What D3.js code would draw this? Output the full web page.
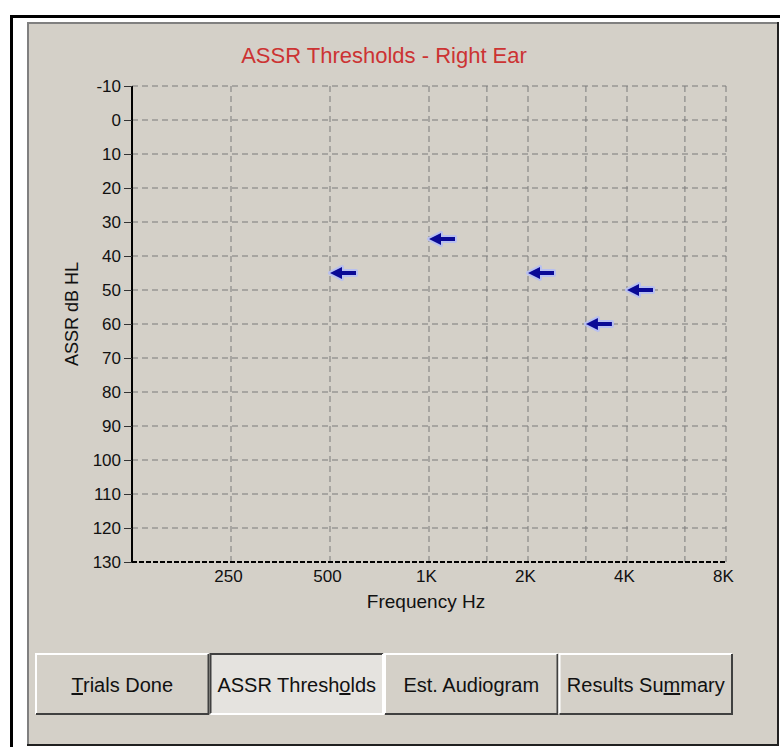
<!DOCTYPE html>
<html>
<head>
<meta charset="utf-8">
<script src="https://cdn.jsdelivr.net/npm/d3@7"></script>
<style>
  body { margin: 0; background: #fff; }
  text { font-family: "Liberation Sans", Arial, sans-serif; }
</style>
</head>
<body>
<svg id="chart" width="780" height="747"></svg>
<script>
// threshold data
var freqs = [500, 1000, 2000, 3000, 4000];
var thresholds = [45, 35, 45, 60, 50];

var yTicks = [-10, 0, 10, 20, 30, 40, 50, 60, 70, 80, 90, 100, 110, 120, 130];
var xTicks = [250, 500, 1000, 2000, 4000, 8000];
var xTickLabels = ["250", "500", "1K", "2K", "4K", "8K"];
var gridFreqs = [250, 500, 1000, 1500, 2000, 3000, 4000, 6000, 8000];

var buttons = ["Trials Done", "ASSR Thresholds", "Est. Audiogram", "Results Summary"];
var underlineAt = [0, 11, -1, 10];
var selected = 1;

var svg = d3.select("#chart"),
  width = +svg.attr("width"),
  height = +svg.attr("height");

var x = d3.scaleLog()
  .domain([125, 8000])
  .range([132, 726]);

var y = d3.scaleLinear()
  .domain([-10, 130])
  .range([86, 562]);

// outer frame
svg.append("rect").attr("x", 10).attr("y", 15).attr("width", 3).attr("height", height - 15).attr("fill", "#000");
svg.append("rect").attr("x", 10).attr("y", 15).attr("width", width - 10).attr("height", 3).attr("fill", "#000");

// grey panel
svg.append("rect")
  .attr("x", 27).attr("y", 22)
  .attr("width", 751).attr("height", 723)
  .attr("fill", "#d4d0c8");
svg.append("path").attr("d", "M28,744V23H777").attr("fill", "none").attr("stroke", "#808080").attr("stroke-width", 2);
svg.append("path").attr("d", "M27,745H778V22").attr("fill", "none").attr("stroke", "#202020").attr("stroke-width", 2);

// title
svg.append("text")
  .attr("x", 384).attr("y", 63)
  .attr("text-anchor", "middle")
  .attr("font-size", 22)
  .attr("fill", "#cc3333")
  .text("ASSR Thresholds - Right Ear");

var g = svg.append("g");

// grid
g.selectAll("line.hgrid")
  .data(yTicks.slice(0, -1))
  .enter().append("line")
  .attr("class", "hgrid")
  .attr("x1", x(125)).attr("x2", x(8000))
  .attr("y1", function (d) { return y(d); })
  .attr("y2", function (d) { return y(d); })
  .attr("stroke", "#7a7a7a")
  .attr("stroke-dasharray", "6,4");

g.selectAll("line.vgrid")
  .data(gridFreqs)
  .enter().append("line")
  .attr("class", "vgrid")
  .attr("x1", function (d) { return x(d); })
  .attr("x2", function (d) { return x(d); })
  .attr("y1", y(-10)).attr("y2", y(130))
  .attr("stroke", "#7a7a7a")
  .attr("stroke-dasharray", "6,4");

// y axis
var yAxis = g.append("g")
  .attr("transform", "translate(" + x(125) + ",0)")
  .call(d3.axisLeft(y).tickValues(yTicks).tickSize(8).tickPadding(3)
    .tickFormat(function (d) { return String(d); }));
yAxis.select(".domain").attr("stroke", "#000").attr("stroke-width", 2).attr("d", "M0," + y(-10) + "V" + y(130));
yAxis.selectAll(".tick line").attr("stroke", "#333");
yAxis.selectAll("text").attr("font-size", 17).attr("fill", "#111").attr("font-family", "Liberation Sans, Arial, sans-serif");

// x axis
var xAxis = g.append("g")
  .attr("transform", "translate(0," + y(130) + ")")
  .call(d3.axisBottom(x).tickValues(xTicks).tickSize(0).tickPadding(8)
    .tickFormat(function (d, i) { return xTickLabels[i]; }));
xAxis.select(".domain")
  .attr("stroke", "#000").attr("stroke-width", 2)
  .attr("stroke-dasharray", "5,2")
  .attr("d", "M" + x(125) + ",0H" + x(8000));
xAxis.selectAll("text").attr("font-size", 17).attr("fill", "#111").attr("dx", -3)
  .attr("font-family", "Liberation Sans, Arial, sans-serif");

// axis titles
g.append("text")
  .attr("text-anchor", "middle")
  .attr("transform", "translate(78,314)rotate(-90)")
  .attr("font-size", 18)
  .attr("fill", "#111")
  .text("ASSR dB HL");

g.append("text")
  .attr("text-anchor", "middle")
  .attr("x", 426).attr("y", 608)
  .attr("font-size", 19)
  .attr("fill", "#111")
  .text("Frequency Hz");

// threshold arrows
var arrow = "M0,0L12,-6L12,-2L26,-2L26,2L12,2L12,6Z";
var pts = g.selectAll("g.pt")
  .data(freqs)
  .enter().append("g")
  .attr("class", "pt")
  .attr("transform", function (d, i) { return "translate(" + x(d) + "," + y(thresholds[i]) + ")"; });
pts.append("path").attr("d", arrow)
  .attr("fill", "none").attr("stroke", "#b8c0f0").attr("stroke-width", 4).attr("stroke-linejoin", "round");
pts.append("path").attr("d", arrow).attr("fill", "#0a0a96");

// tab buttons
var bx = d3.scaleBand().domain(d3.range(buttons.length)).range([35, 733]);
var by0 = 653, by1 = 715;

var dither = svg.append("defs").append("pattern")
  .attr("id", "dither").attr("width", 2).attr("height", 2)
  .attr("patternUnits", "userSpaceOnUse");
dither.append("rect").attr("width", 2).attr("height", 2).attr("fill", "#f2f1ee");
dither.append("rect").attr("width", 1).attr("height", 1).attr("fill", "#d8d5cf");
dither.append("rect").attr("x", 1).attr("y", 1).attr("width", 1).attr("height", 1).attr("fill", "#d8d5cf");

var btn = svg.selectAll("g.btn")
  .data(buttons)
  .enter().append("g")
  .attr("class", "btn")
  .attr("transform", function (d, i) { return "translate(" + bx(i) + "," + by0 + ")"; });

btn.append("rect")
  .attr("width", bx.bandwidth()).attr("height", by1 - by0)
  .attr("fill", function (d, i) { return i === selected ? "url(#dither)" : "#d4d0c8"; });

var bw = bx.bandwidth(), bh = by1 - by0;
btn.append("path")
  .attr("d", "M1," + (bh - 1) + "V1H" + (bw - 1))
  .attr("fill", "none")
  .attr("stroke", function (d, i) { return i === selected ? "#404040" : "#ffffff"; })
  .attr("stroke-width", 2);
btn.append("path")
  .attr("d", "M1," + (bh - 1) + "H" + (bw - 1) + "V1")
  .attr("fill", "none")
  .attr("stroke", function (d, i) { return i === selected ? "#ffffff" : "#404040"; })
  .attr("stroke-width", 2);

var label = btn.append("text")
  .attr("x", bw / 2).attr("y", 39)
  .attr("text-anchor", "middle")
  .attr("font-size", 20)
  .attr("fill", "#111");
label.each(function (d, i) {
  var t = d3.select(this), k = underlineAt[i];
  if (k < 0) { t.text(d); return; }
  t.append("tspan").text(d.slice(0, k));
  t.append("tspan").attr("text-decoration", "underline").text(d[k]);
  t.append("tspan").text(d.slice(k + 1));
});
</script>
</body>
</html>
